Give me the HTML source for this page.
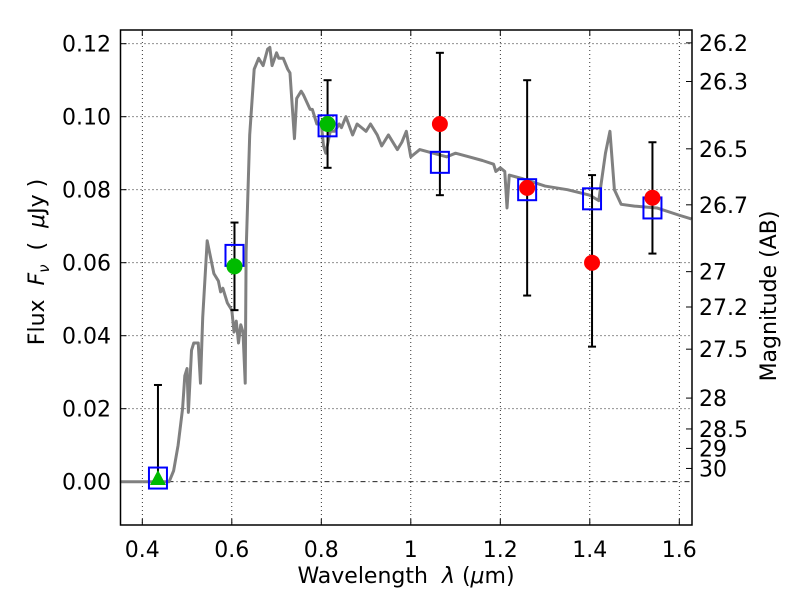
<!DOCTYPE html>
<html><head><meta charset="utf-8"><style>
body{margin:0;background:#fff;}
svg text{font-family:"DejaVu Sans","Liberation Sans",sans-serif;fill:#000;white-space:pre;}
</style></head><body>
<svg id="c" width="800" height="600" xmlns="http://www.w3.org/2000/svg"></svg>
<script>
const specX=[0.35,0.46,0.47,0.48,0.49,0.495,0.50,0.503,0.51,0.515,0.525,0.53,0.535,0.545,0.555,0.56,0.57,0.575,0.58,0.59,0.60,0.605,0.61,0.615,0.62,0.625,0.63,0.632,0.64,0.65,0.66,0.67,0.68,0.685,0.69,0.70,0.705,0.715,0.725,0.73,0.74,0.745,0.755,0.76,0.775,0.78,0.79,0.80,0.805,0.81,0.82,0.83,0.84,0.845,0.855,0.87,0.88,0.89,0.90,0.91,0.925,0.935,0.95,0.97,0.98,0.99,1.0,1.02,1.05,1.08,1.1,1.13,1.16,1.185,1.19,1.2,1.21,1.215,1.22,1.25,1.3,1.35,1.4,1.42,1.435,1.445,1.455,1.47,1.5,1.55,1.6,1.627];
const specY=[0,0,0.003,0.01,0.02,0.029,0.031,0.019,0.036,0.038,0.038,0.027,0.045,0.066,0.06,0.057,0.055,0.052,0.053,0.049,0.047,0.041,0.044,0.038,0.043,0.041,0.027,0.063,0.095,0.113,0.116,0.114,0.1185,0.119,0.114,0.1175,0.116,0.116,0.113,0.112,0.094,0.105,0.107,0.106,0.102,0.102,0.098,0.098,0.092,0.090,0.096,0.096,0.098,0.097,0.1,0.095,0.098,0.097,0.096,0.098,0.095,0.092,0.095,0.091,0.093,0.096,0.089,0.091,0.090,0.089,0.090,0.089,0.088,0.087,0.085,0.086,0.085,0.075,0.084,0.083,0.081,0.080,0.0785,0.077,0.09,0.096,0.08,0.076,0.0755,0.075,0.073,0.072];
const bandX=[0.435,0.606,0.814,1.065,1.26,1.405,1.54];
const obsF=[0.001,0.059,0.098,0.098,0.0805,0.060,0.0778];
const obsColor=['#00bb00','#00bb00','#00bb00','red','red','red','red'];
const errLo=[0,0.047,0.086,0.0785,0.051,0.037,0.0625];
const errHi=[0.0265,0.071,0.110,0.1175,0.110,0.084,0.093];
const modelF=[0.001,0.062,0.0975,0.0875,0.080,0.0775,0.075];
const xTicks=[0.4,0.6,0.8,1.0,1.2,1.4,1.6];
const xTickLabels=['0.4','0.6','0.8','1','1.2','1.4','1.6'];
const yTicks=[0,0.02,0.04,0.06,0.08,0.10,0.12];
const yTickLabels=['0.00','0.02','0.04','0.06','0.08','0.10','0.12'];
const magTicks=[26.2,26.3,26.5,26.7,27,27.2,27.5,28,28.5,29,30];

const L=120.5,R=692,T=30,B=525;
const xs=v=>142.3+(v-0.4)*447.5;
const ys=v=>481.7-v*3650;
const svg=document.getElementById('c');
const NS='http://www.w3.org/2000/svg';
function mk(tag,attrs,parent){const e=document.createElementNS(NS,tag);for(const k in attrs)e.setAttribute(k,attrs[k]);(parent||svg).appendChild(e);return e;}

const grid=mk('g',{});


xTicks.forEach((t,i)=>{
  mk('line',{x1:xs(t),x2:xs(t),y1:T,y2:B,stroke:'#000','stroke-width':0.8,'stroke-dasharray':'1,3'},grid);
  mk('line',{x1:xs(t),x2:xs(t),y1:B,y2:B-6,stroke:'#000'},grid);
  mk('line',{x1:xs(t),x2:xs(t),y1:T,y2:T+6,stroke:'#000'},grid);
  const tx=mk('text',{x:xs(t),y:557,'font-size':22,'text-anchor':'middle'});
  tx.textContent=xTickLabels[i];
  
  
});
yTicks.forEach((t,i)=>{
  mk('line',{x1:L,x2:R,y1:ys(t),y2:ys(t),stroke:'#000','stroke-width':0.8,'stroke-dasharray':t===0?'5,3,1,3':'1,3'},grid);
  mk('line',{x1:L,x2:L+6,y1:ys(t),y2:ys(t),stroke:'#000'},grid);
  const tx=mk('text',{x:111,y:ys(t)+8,'font-size':22,'text-anchor':'end'});
  tx.textContent=yTickLabels[i];
  
  
});
magTicks.forEach(m=>{
  const f=Math.pow(10,(23.9-m)/2.5);
  const y=ys(f);
  mk('line',{x1:R-6,x2:R,y1:y,y2:y,stroke:'#000'});
  const tx=mk('text',{x:699,y:y+8,'font-size':22});
  tx.textContent=String(m);
  
  
});

const spec=mk('polyline',{points:specX.map((x,i)=>xs(x)+','+ys(specY[i])).join(' '),fill:'none',stroke:'#808080','stroke-width':3,'stroke-linejoin':'round'});



bandX.forEach((x,i)=>{
  const eb=mk('g',{stroke:'#000','stroke-width':2});
  
  
  mk('line',{x1:xs(x),x2:xs(x),y1:ys(errLo[i]),y2:ys(errHi[i])},eb);
  mk('line',{x1:xs(x)-4,x2:xs(x)+4,y1:ys(errLo[i]),y2:ys(errLo[i])},eb);
  mk('line',{x1:xs(x)-4,x2:xs(x)+4,y1:ys(errHi[i]),y2:ys(errHi[i])},eb);
});
bandX.forEach((x,i)=>{
  const sq=mk('rect',{x:xs(x)-9,y:ys(modelF[i])-10.5,width:18,height:21,fill:'none',stroke:'#0000ff','stroke-width':2});
  
  
});
bandX.forEach((x,i)=>{
  let m;
  if(i===0){
    const cx=xs(x),cy=ys(obsF[i]);
    m=mk('polygon',{points:`${cx},${cy-8} ${cx-8},${cy+7} ${cx+8},${cy+7}`,fill:obsColor[i]});
    
  } else {
    m=mk('circle',{cx:xs(x),cy:ys(obsF[i]),r:8,fill:obsColor[i]});
    
  }
  
});

const fr=mk('rect',{x:L,y:T,width:R-L,height:B-T,fill:'none',stroke:'#000','stroke-width':1.5});



let t=mk('text',{x:406,y:583,'font-size':22,'text-anchor':'middle'});
t.innerHTML='Wavelength  <tspan font-style="italic">λ</tspan> (<tspan font-style="italic">μ</tspan>m)';


t=mk('text',{x:0,y:0,'font-size':22,'text-anchor':'middle',transform:'translate(44,262) rotate(-90)'});
t.innerHTML='Flux  <tspan font-style="italic">F</tspan><tspan font-style="italic" font-size="15" dy="5">ν</tspan><tspan dy="-5">  (  </tspan><tspan font-style="italic">μ</tspan>Jy )';


t=mk('text',{x:0,y:0,'font-size':22,'text-anchor':'middle',transform:'translate(776,296) rotate(-90)'});
t.textContent='Magnitude (AB)';


</script>
</body></html>
